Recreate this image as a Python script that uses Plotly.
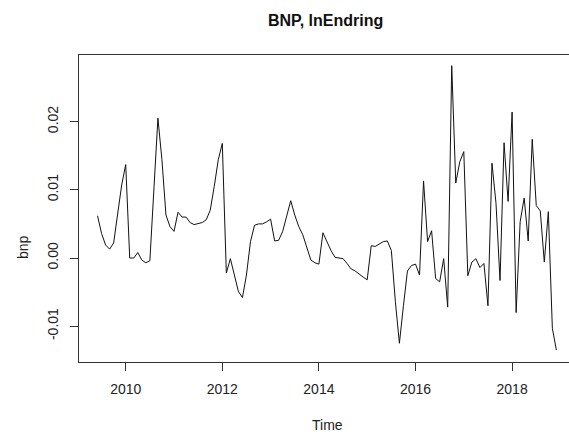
import plotly.graph_objects as go

# Monthly series, starting June 2009 (ts-style: start year, start month, frequency)
start_year = 2009
start_month = 6
frequency = 12

bnp = [
    0.0062, 0.0036, 0.0019, 0.0013, 0.0022, 0.0063, 0.0107, 0.0137,
    0.0000, 0.0000, 0.0008, -0.0003, -0.0007, -0.0004, 0.0100, 0.0205,
    0.0144, 0.0063, 0.0046, 0.0039, 0.0067, 0.0060, 0.0060, 0.0052,
    0.0049, 0.0050, 0.0052, 0.0056, 0.0070, 0.0105, 0.0144, 0.0168,
    -0.0022, -0.0001, -0.0027, -0.0049, -0.0058, -0.0025, 0.0024, 0.0048,
    0.0050, 0.0050, 0.0053, 0.0057, 0.0025, 0.0026, 0.0039, 0.0063,
    0.0084, 0.0063, 0.0046, 0.0034, 0.0014, -0.0003, -0.0007, -0.0009,
    0.0037, 0.0024, 0.0011, 0.0001, 0.0000, -0.0001, -0.0008, -0.0016,
    -0.0019, -0.0024, -0.0028, -0.0032, 0.0018, 0.0017, 0.0021, 0.0024,
    0.0025, 0.0011, -0.0064, -0.0125, -0.0070, -0.0019, -0.0011, -0.0009,
    -0.0025, 0.0113, 0.0024, 0.0040, -0.0030, -0.0035, -0.0001, -0.0072,
    0.0282, 0.0110, 0.0141, 0.0156, -0.0026, -0.0006, -0.0001, -0.0014,
    -0.0008, -0.0070, 0.0139, 0.0080, -0.0033, 0.0169, 0.0083, 0.0214,
    -0.0080, 0.0053, 0.0088, 0.0025, 0.0174, 0.0077, 0.0069, -0.0006,
    0.0068, -0.0103, -0.0135,
]

x_ticks = [2010, 2012, 2014, 2016, 2018]
x_tick_labels = ["2010", "2012", "2014", "2016", "2018"]
y_ticks = [-0.01, 0.0, 0.01, 0.02]
y_tick_labels = ["-0.01", "0.00", "0.01", "0.02"]

title_text = "BNP, lnEndring"
x_title = "Time"
y_title = "bnp"

# Time index in fractional years
t0 = start_year + (start_month - 1) / frequency
time = [t0 + i / frequency for i in range(len(bnp))]

FONT = "Liberation Sans, Arial, Helvetica, sans-serif"
W, H = 569, 435
ML, MR, MT, MB = 79, 0, 55, 73
PW, PH = W - ML - MR, H - MT - MB


def px_to_paper(px, py):
    return (px - ML) / PW, (H - MB - py) / PH


fig = go.Figure()
fig.add_trace(go.Scatter(
    x=time, y=bnp, mode="lines",
    line=dict(color="#111111", width=1),
    hoverinfo="x+y", showlegend=False,
))

axis_common = dict(
    showgrid=False, zeroline=False, showline=True, linecolor="#333333",
    linewidth=1, ticks="outside", ticklen=8, tickwidth=1, tickcolor="#333333",
    tickfont=dict(family=FONT, size=14, color="#222222"),
)

fig.update_layout(
    width=W, height=H,
    margin=dict(l=ML, r=MR, t=MT, b=MB),
    paper_bgcolor="white", plot_bgcolor="white",
    xaxis=dict(range=[2009.033, 2019.178], tickvals=x_ticks,
               ticktext=x_tick_labels, mirror=True,
               ticklabelstandoff=6, **axis_common),
    yaxis=dict(range=[-0.015249, 0.029765], tickvals=y_ticks,
               ticktext=y_tick_labels, tickangle=-90, mirror=False,
               ticklabelstandoff=6, **axis_common),
)

tx, ty = px_to_paper(325, 21)
xx, xy = px_to_paper(327, 425)
yx, yy = px_to_paper(23, 247)
fig.add_annotation(x=tx, y=ty, xref="paper", yref="paper", text=f"<b>{title_text}</b>",
                   showarrow=False, xanchor="center", yanchor="middle",
                   font=dict(family=FONT, size=16, color="#111111"))
fig.add_annotation(x=xx, y=xy, xref="paper", yref="paper", text=x_title,
                   showarrow=False, xanchor="center", yanchor="middle",
                   font=dict(family=FONT, size=14, color="#222222"))
fig.add_annotation(x=yx, y=yy, xref="paper", yref="paper", text=y_title,
                   showarrow=False, xanchor="center", yanchor="middle", textangle=-90,
                   font=dict(family=FONT, size=14, color="#222222"))

fig.write_html("out.html")
